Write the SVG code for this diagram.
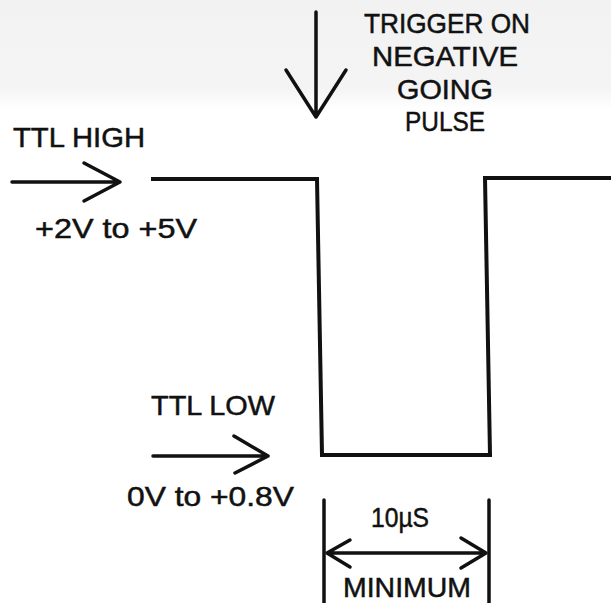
<svg xmlns="http://www.w3.org/2000/svg" width="611" height="603" viewBox="0 0 611 603">
<style>
.ln{fill:none;stroke:#111;stroke-width:4;stroke-linejoin:miter;stroke-linecap:square}
.ar{fill:none;stroke:#111;stroke-width:3.5;stroke-linecap:round;stroke-linejoin:round}
.t{font-family:"Liberation Sans",Arial,sans-serif;font-size:28px;fill:#111;stroke:#111;stroke-width:0.5}
</style>
<defs>
<linearGradient id="bg" x1="0" y1="0" x2="0" y2="1">
<stop offset="0" stop-color="#f2f2f2"/>
<stop offset="0.8" stop-color="#f4f4f4"/>
<stop offset="1" stop-color="#ffffff"/>
</linearGradient>
</defs>
<rect x="0" y="0" width="611" height="603" fill="#fff"/>
<rect x="0" y="0" width="611" height="110" fill="url(#bg)"/>
<g id="connectors">
<path id="pulse" class="ln" d="M153,179 L317,179 L322,455 L490,455 L485,178 L611,178"/>
<path id="trigger-arrow" class="ar" d="M316,12 L316,117 M286,70 L316,117 L346,70"/>
<path id="high-arrow" class="ar" d="M12,182 L120,182 M84,163 L120,182 L84,201"/>
<path id="low-arrow" class="ar" d="M153,456 L268,456 M234,436 L268,456 L235,473"/>
<path id="dim-left" class="ar" d="M324,500 L324,603"/>
<path id="dim-right" class="ar" d="M489,500 L489,603"/>
<path id="dim-arrow" class="ar" d="M327,553 L486,553 M350,540 L327,553 L350,567 M461,538 L486,553 L461,568"/>
</g>
<g id="trigger-label">
<text class="t" x="447" y="33" text-anchor="middle" textLength="166" lengthAdjust="spacingAndGlyphs">TRIGGER ON</text>
<text class="t" x="445" y="66" text-anchor="middle" textLength="146" lengthAdjust="spacingAndGlyphs">NEGATIVE</text>
<text class="t" x="445" y="99" text-anchor="middle" textLength="96" lengthAdjust="spacingAndGlyphs">GOING</text>
<text class="t" x="445" y="131" text-anchor="middle" textLength="80" lengthAdjust="spacingAndGlyphs">PULSE</text>
</g>
<g id="ttl-high">
<text class="t" x="13" y="147" textLength="132" lengthAdjust="spacingAndGlyphs">TTL HIGH</text>
<text class="t" x="35" y="238" textLength="162" lengthAdjust="spacingAndGlyphs">+2V to +5V</text>
</g>
<g id="ttl-low">
<text class="t" x="151" y="415" textLength="124" lengthAdjust="spacingAndGlyphs">TTL LOW</text>
<text class="t" x="127" y="506" textLength="167" lengthAdjust="spacingAndGlyphs">0V to +0.8V</text>
</g>
<g id="width-label">
<text class="t" x="371" y="527" textLength="58" lengthAdjust="spacingAndGlyphs">10µS</text>
<text class="t" x="343" y="597" textLength="128" lengthAdjust="spacingAndGlyphs">MINIMUM</text>
</g>
</svg>
